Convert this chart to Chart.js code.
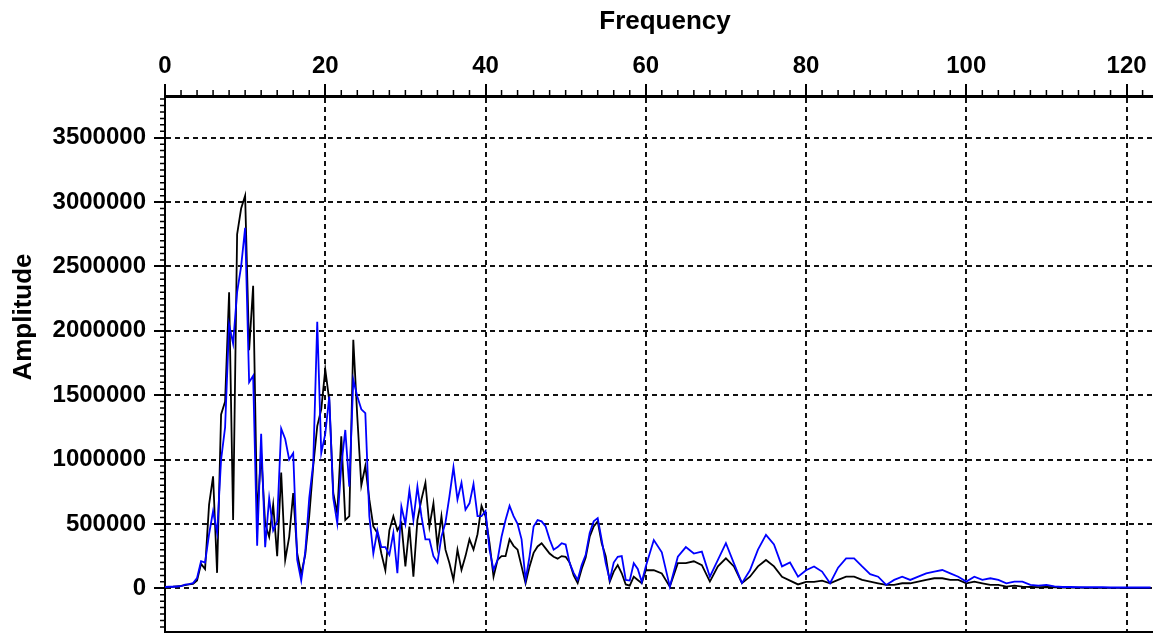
<!DOCTYPE html>
<html>
<head>
<meta charset="utf-8">
<title>Frequency / Amplitude</title>
<script src="https://cdn.jsdelivr.net/npm/chart.js@4/dist/chart.umd.min.js"></script>
<style>
  html, body { margin: 0; padding: 0; background: #fff; }
  #wrap { width: 1153px; height: 634px; }
</style>
</head>
<body>
<div id="wrap"><canvas id="spectrum" width="1153" height="634"></canvas></div>
<script>
// frequency grid: 0.5 steps up to 60, then 1 steps
const freqs = [
  0, 0.5, 1, 1.5, 2, 2.5, 3, 3.5, 4, 4.5,
  5, 5.5, 6, 6.5, 7, 7.5, 8, 8.5, 9, 9.5,
  10, 10.5, 11, 11.5, 12, 12.5, 13, 13.5, 14, 14.5,
  15, 15.5, 16, 16.5, 17, 17.5, 18, 18.5, 19, 19.5,
  20, 20.5, 21, 21.5, 22, 22.5, 23, 23.5, 24, 24.5,
  25, 25.5, 26, 26.5, 27, 27.5, 28, 28.5, 29, 29.5,
  30, 30.5, 31, 31.5, 32, 32.5, 33, 33.5, 34, 34.5,
  35, 35.5, 36, 36.5, 37, 37.5, 38, 38.5, 39, 39.5,
  40, 40.5, 41, 41.5, 42, 42.5, 43, 43.5, 44, 44.5,
  45, 45.5, 46, 46.5, 47, 47.5, 48, 48.5, 49, 49.5,
  50, 50.5, 51, 51.5, 52, 52.5, 53, 53.5, 54, 54.5,
  55, 55.5, 56, 56.5, 57, 57.5, 58, 58.5, 59, 59.5,
  60,
  61, 62, 63, 64, 65, 66, 67, 68, 69, 70,
  71, 72, 73, 74, 75, 76, 77, 78, 79, 80,
  81, 82, 83, 84, 85, 86, 87, 88, 89, 90,
  91, 92, 93, 94, 95, 96, 97, 98, 99, 100,
  101, 102, 103, 104, 105, 106, 107, 108, 109, 110,
  111, 112, 113, 114, 115, 116, 117, 118, 119, 120, 121, 122, 123
];

const ampBlack = [
  10000, 10000, 12000, 15000, 18000, 25000, 30000, 35000, 60000, 190000,
  150000, 650000, 870000, 120000, 1350000, 1450000, 2300000, 530000, 2750000, 2950000,
  3050000, 1850000, 2350000, 550000, 1050000, 500000, 400000, 650000, 250000, 900000,
  220000, 400000, 740000, 270000, 110000, 260000, 560000, 950000, 1260000, 1390000,
  1700000, 1460000, 740000, 580000, 1180000, 530000, 560000, 1930000, 1330000, 800000,
  950000, 690000, 480000, 430000, 270000, 140000, 450000, 560000, 450000, 505000,
  170000, 480000, 90000, 530000, 690000, 820000, 480000, 660000, 325000, 560000,
  300000, 195000, 65000, 300000, 143000, 250000, 380000, 300000, 420000, 640000,
  560000, 350000, 90000, 220000, 250000, 250000, 380000, 330000, 300000, 170000,
  39000, 170000, 275000, 325000, 350000, 310000, 270000, 245000, 230000, 250000,
  245000, 200000, 100000, 40000, 150000, 240000, 400000, 480000, 520000, 350000,
  250000, 50000, 130000, 180000, 117000, 30000, 20000, 90000, 65000, 40000,
  140000,
  140000, 115000, 13000, 195000, 195000, 210000, 180000, 52000, 170000, 233000,
  170000, 40000, 90000, 170000, 220000, 170000, 90000, 60000, 30000, 50000,
  50000, 60000, 39000, 65000, 90000, 90000, 65000, 52000, 39000, 26000,
  26000, 39000, 39000, 52000, 65000, 78000, 78000, 65000, 65000, 39000,
  52000, 39000, 26000, 26000, 13000, 20000, 13000, 10000, 8000, 10000,
  8000, 6000, 5000, 5000, 4000, 4000, 3000, 3000, 3000, 2000, 2000, 2000, 2000
];

const ampBlue = [
  10000, 12000, 12000, 14000, 16000, 28000, 32000, 40000, 80000, 210000,
  200000, 420000, 600000, 430000, 1000000, 1250000, 2050000, 1900000, 2300000, 2500000,
  2800000, 1600000, 1650000, 330000, 1200000, 320000, 700000, 450000, 520000, 1240000,
  1160000, 1000000, 1050000, 220000, 60000, 280000, 700000, 970000, 2070000, 1050000,
  1200000, 1490000, 700000, 505000, 950000, 1230000, 790000, 1620000, 1490000, 1390000,
  1360000, 560000, 270000, 450000, 320000, 320000, 260000, 430000, 117000, 635000,
  500000, 760000, 530000, 790000, 560000, 380000, 380000, 250000, 200000, 400000,
  510000, 715000, 940000, 690000, 820000, 610000, 660000, 810000, 560000, 560000,
  600000, 300000, 143000, 220000, 400000, 530000, 640000, 560000, 500000, 380000,
  65000, 250000, 480000, 530000, 520000, 480000, 380000, 300000, 320000, 350000,
  340000, 195000, 120000, 65000, 180000, 260000, 430000, 520000, 545000, 375000,
  195000, 65000, 200000, 245000, 250000, 65000, 60000, 195000, 150000, 50000,
  170000,
  375000, 280000, 13000, 245000, 320000, 270000, 285000, 90000, 220000, 350000,
  194000, 40000, 140000, 300000, 415000, 340000, 170000, 200000, 90000, 140000,
  170000, 130000, 39000, 160000, 233000, 233000, 170000, 110000, 90000, 26000,
  65000, 90000, 65000, 90000, 116000, 130000, 142000, 116000, 90000, 52000,
  90000, 65000, 78000, 65000, 39000, 52000, 52000, 26000, 20000, 26000,
  15000, 10000, 10000, 8000, 8000, 8000, 8000, 6000, 6000, 6000, 6000, 6000, 6000
];

const freqTicks = [0, 20, 40, 60, 80, 100, 120];
const ampTicks = [0, 500000, 1000000, 1500000, 2000000, 2500000, 3000000, 3500000];

const FONT_FAMILY = '"Liberation Sans", Arial, sans-serif';

function toPoints(values) {
  return freqs.map(function(f, i) { return { x: f, y: values[i] }; });
}

// small minor ticks, the bottom frame line and the two axis titles
const frameExtras = {
  id: 'frameExtras',
  afterDraw: function(chart) {
    const ctx = chart.ctx;
    const area = chart.chartArea;
    const xs = chart.scales.x;
    const ys = chart.scales.y;
    ctx.save();
    ctx.strokeStyle = '#000';
    ctx.lineWidth = 1.5;
    ctx.beginPath();
    for (let f = 2; f < xs.max; f += 2) {
      if (f % 20 === 0) continue;
      const px = xs.getPixelForValue(f);
      ctx.moveTo(px, area.top);
      ctx.lineTo(px, area.top - 6);
    }
    for (let v = -300000; v < ys.max; v += 50000) {
      if (v % 500000 === 0) continue;
      const py = ys.getPixelForValue(v);
      ctx.moveTo(area.left, py);
      ctx.lineTo(area.left - 5, py);
    }
    ctx.stroke();
    // bottom frame line
    ctx.lineWidth = 2;
    ctx.beginPath();
    ctx.moveTo(area.left, area.bottom);
    ctx.lineTo(area.right, area.bottom);
    ctx.stroke();
    // titles
    ctx.fillStyle = '#000';
    ctx.font = 'bold 26px ' + FONT_FAMILY;
    ctx.textAlign = 'center';
    ctx.textBaseline = 'alphabetic';
    ctx.fillText('Frequency', (area.left + area.right) / 2 + 6, 29);
    ctx.translate(31, chart.height / 2);
    ctx.rotate(-Math.PI / 2);
    ctx.fillText('Amplitude', 0, 0);
    ctx.restore();
  }
};

const tickFont = { family: FONT_FAMILY, size: 24, weight: 'bold' };

new Chart(document.getElementById('spectrum'), {
  type: 'line',
  data: {
    datasets: [
      {
        label: 'blue',
        data: toPoints(ampBlue),
        borderColor: '#0000ff',
        borderWidth: 1.8,
        pointRadius: 0,
        tension: 0,
        fill: false
      },
      {
        label: 'black',
        data: toPoints(ampBlack),
        borderColor: '#000000',
        borderWidth: 1.8,
        pointRadius: 0,
        tension: 0,
        fill: false
      }
    ]
  },
  options: {
    responsive: false,
    animation: false,
    layout: { padding: { left: 0, top: 0, right: 0, bottom: 2 } },
    plugins: {
      legend: { display: false },
      tooltip: { enabled: false }
    },
    scales: {
      x: {
        type: 'linear',
        position: 'top',
        min: 0,
        max: 123.3,
        afterBuildTicks: function(s) {
          s.ticks = freqTicks.map(function(v) { return { value: v }; });
        },
        afterFit: function(s) {
          s.height = 96;
          s.paddingLeft = 0;
          s.paddingRight = 0;
        },
        ticks: {
          font: tickFont,
          color: '#000',
          padding: 3,
          maxRotation: 0,
          autoSkip: false,
          callback: function(v) { return String(v); }
        },
        grid: {
          color: '#111',
          lineWidth: 2,
          tickLength: 12,
          tickWidth: 2,
          tickColor: '#000'
        },
        border: { color: '#000', width: 3, dash: [5, 4] }
      },
      y: {
        type: 'linear',
        min: -339500,
        max: 3824000,
        afterBuildTicks: function(s) {
          s.ticks = ampTicks.map(function(v) { return { value: v }; });
        },
        afterFit: function(s) {
          s.width = 165;
          s.paddingTop = 0;
          s.paddingBottom = 0;
        },
        ticks: {
          font: tickFont,
          color: '#000',
          padding: 8,
          autoSkip: false,
          callback: function(v) { return String(v); }
        },
        grid: {
          color: '#111',
          lineWidth: 2,
          tickLength: 11,
          tickWidth: 2,
          tickColor: '#000'
        },
        border: { color: '#000', width: 2, dash: [5, 4] }
      }
    }
  },
  plugins: [frameExtras]
});
</script>
</body>
</html>
